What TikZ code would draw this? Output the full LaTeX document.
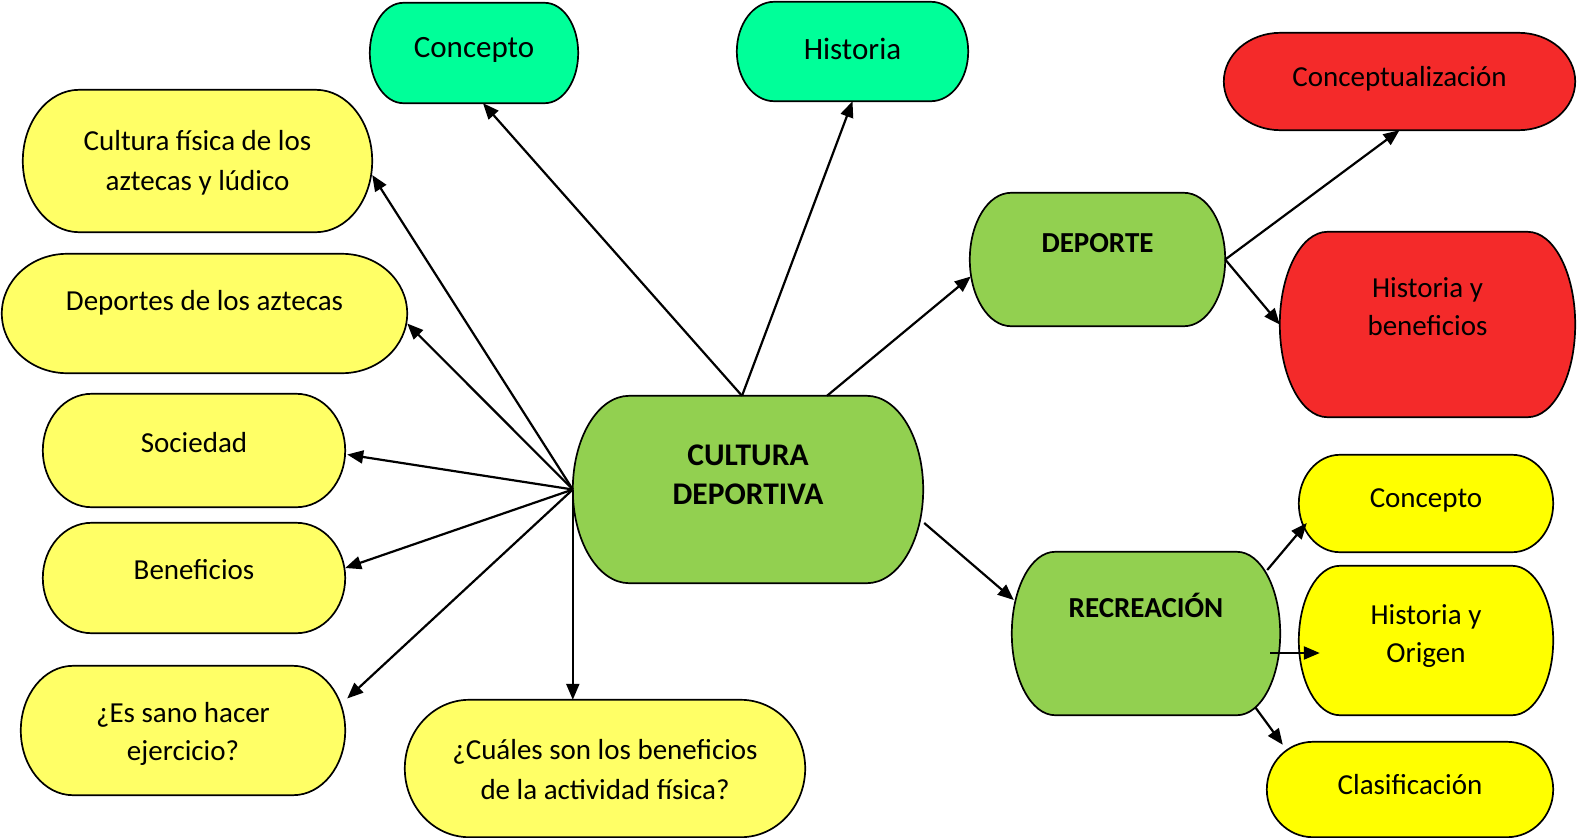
\documentclass[tikz,border=0pt]{standalone}
\usepackage{fontspec}
\setmainfont{Carlito}
\usetikzlibrary{arrows.meta,calc}

\definecolor{verde}{HTML}{92D050}
\definecolor{turquesa}{HTML}{00FF99}
\definecolor{amarillo}{HTML}{FFFF66}
\definecolor{amarillofuerte}{HTML}{FFFF00}
\definecolor{rojo}{HTML}{F42A2A}

\tikzset{
  caja/.style={rectangle,inner sep=0pt},
  borde/.style={line width=1.7pt,draw=black},
  texto/.style={align=center,inner sep=0pt,font=\fontsize{29}{38}\selectfont},
  textot/.style={texto,font=\fontsize{31}{38}\selectfont},
  textob/.style={texto,font=\fontsize{29}{38}\selectfont\bfseries},
  textoc/.style={texto,font=\fontsize{31.5}{39}\selectfont\bfseries},
  flecha/.style={line width=2.2pt,-{Triangle[length=16pt,width=13pt]}}
}

\begin{document}
\begin{tikzpicture}[x=1pt,y=-1pt]
  \useasboundingbox (0,0) rectangle (1577,838);

  % cajas
  \node[caja,minimum width=350pt,minimum height=187pt] (cult) at (748,489.5) {};
  \node[caja,minimum width=208pt,minimum height=100pt] (concT) at (474,53) {};
  \node[caja,minimum width=231pt,minimum height=99pt] (hist) at (852.5,51.5) {};
  \node[caja,minimum width=349pt,minimum height=142pt] (cfis) at (197.5,161) {};
  \node[caja,minimum width=405pt,minimum height=119pt] (dazt) at (204.5,313.5) {};
  \node[caja,minimum width=302pt,minimum height=113pt] (soc) at (194,450.5) {};
  \node[caja,minimum width=302pt,minimum height=110pt] (ben) at (194,578) {};
  \node[caja,minimum width=324pt,minimum height=129pt] (sano) at (183,730.5) {};
  \node[caja,minimum width=400pt,minimum height=137pt] (cual) at (605,768.5) {};
  \node[caja,minimum width=255pt,minimum height=133pt] (dep) at (1097.5,259.5) {};
  \node[caja,minimum width=351pt,minimum height=97pt] (concz) at (1399.5,81.5) {};
  \node[caja,minimum width=295pt,minimum height=185pt] (hyb) at (1427.5,324.5) {};
  \node[caja,minimum width=268pt,minimum height=163pt] (rec) at (1146,633.5) {};
  \node[caja,minimum width=254pt,minimum height=97pt] (concY) at (1426,503.5) {};
  \node[caja,minimum width=254pt,minimum height=149pt] (hyo) at (1426,640.5) {};
  \node[caja,minimum width=286pt,minimum height=95pt] (clas) at (1410,789.5) {};

  % contornos
  \foreach \b/\c in {cult/verde,concT/turquesa,hist/turquesa,cfis/amarillo,
      dazt/amarillo,soc/amarillo,ben/amarillo,sano/amarillo,cual/amarillo,
      dep/verde,concz/rojo,hyb/rojo,rec/verde,concY/amarillofuerte,
      hyo/amarillofuerte,clas/amarillofuerte}
    \draw[borde,fill=\c] let \p1=(\b.north west), \p2=(\b.south east),
        \n1={0.161*(\x2-\x1)}, \n2={(\y1-\y2)/2} in
      ({\x1+\n1*1pt},\y1) -- ({\x2-\n1*1pt},\y1)
      arc[start angle=90,end angle=-90,x radius={\n1*1pt},y radius={\n2*1pt}]
      -- ({\x1+\n1*1pt},\y2)
      arc[start angle=-90,end angle=-270,x radius={\n1*1pt},y radius={\n2*1pt}]
      -- cycle;

  % flechas
  \draw[flecha] ($(cult.north)+(-6,0)$) -- ($(concT.south)+(9,0)$);
  \draw[flecha] ($(cult.north)+(-6,0)$) -- (hist.south);
  \draw[flecha] ($(cult.north)+(79,0)$) -- ($(dep.west)+(1,17)$);
  \draw[flecha] ($(cult.east)+(1,33.5)$) -- ($(rec.west)+(2,-33.5)$);
  \draw[flecha] (cult.west) -- ($(cfis.east)+(0,14)$);
  \draw[flecha] (cult.west) -- ($(dazt.east)+(0,10)$);
  \draw[flecha] (cult.west) -- ($(soc.east)+(2,4)$);
  \draw[flecha] (cult.west) -- ($(ben.east)+(0,-10)$);
  \draw[flecha] (cult.west) -- ($(sano.east)+(2,-32)$);
  \draw[flecha] (cult.west) -- (cult.west |- cual.north);
  \draw[flecha] (dep.east) -- (concz.south);
  \draw[flecha] (dep.east) -- (hyb.west);
  \draw[flecha] ($(rec.east)+(-13,-63.5)$) -- ($(concY.west)+(8,19.5)$);
  \draw[flecha] ($(rec.east)+(-10,19.5)$) -- ($(hyo.west)+(21,12.5)$);
  \draw[flecha] ($(rec.south east)+(-25,-8)$) -- ($(clas.north west)+(16,3)$);

  % textos
  \node[textoc,yshift=15pt] (tcult) at (cult) {CULTURA\\DEPORTIVA};
  \node[textot,yshift=3pt] (tconcT) at (concT) {Concepto};
  \node[textot,yshift=3pt] (thist) at (hist) {Historia};
  \node[texto,yshift=-2pt,font=\fontsize{29}{40}\selectfont] (tcfis) at (cfis) {Cultura física de los\\aztecas y lúdico};
  \node[texto,yshift=11pt] (tdazt) at (dazt) {Deportes de los aztecas};
  \node[texto,yshift=8pt] (tsoc) at (soc) {Sociedad};
  \node[texto,yshift=8pt] (tben) at (ben) {Beneficios};
  \node[texto,yshift=-3pt] (tsano) at (sano) {¿Es sano hacer\\ejercicio?};
  \node[texto,yshift=-1pt,font=\fontsize{29}{40}\selectfont] (tcual) at (cual) {¿Cuáles son los beneficios\\de la actividad física?};
  \node[textob,yshift=16pt] (tdep) at (dep) {DEPORTE};
  \node[texto,yshift=3pt] (tconcz) at (concz) {Conceptualización};
  \node[texto,yshift=18pt] (thyb) at (hyb) {Historia y\\beneficios};
  \node[textob,yshift=28pt] (trec) at (rec) {RECREACIÓN};
  \node[texto,yshift=3pt] (tconcY) at (concY) {Concepto};
  \node[texto,yshift=4pt] (thyo) at (hyo) {Historia y\\Origen};
  \node[texto,yshift=5pt] (tclas) at (clas) {Clasificación};
\end{tikzpicture}
\end{document}
